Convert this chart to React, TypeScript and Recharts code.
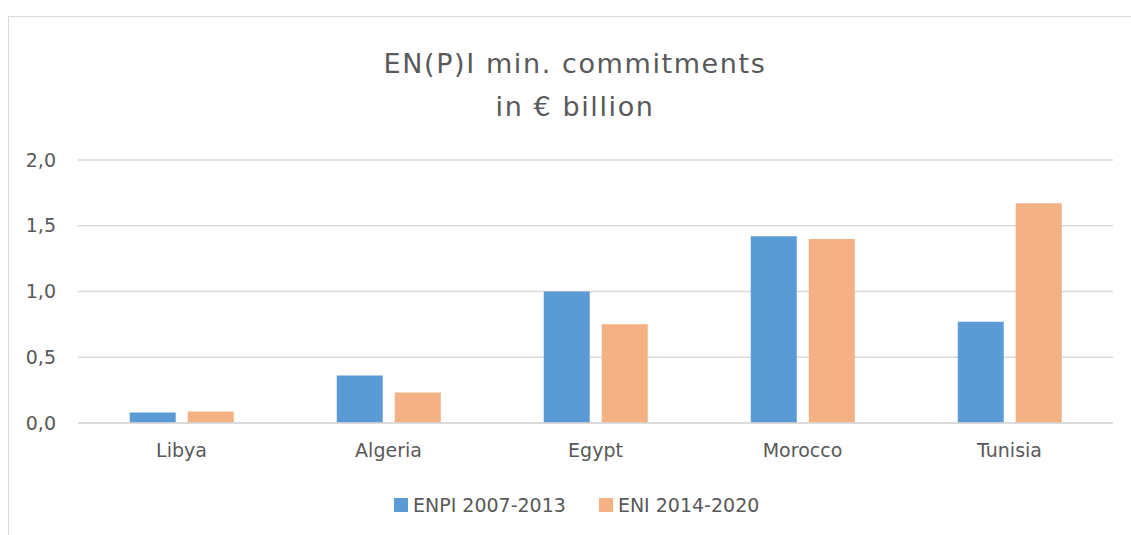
import * as React from "react";
import {
  Bar,
  BarChart,
  CartesianGrid,
  Legend,
  XAxis,
  YAxis,
} from "recharts";

const countries = ["Libya", "Algeria", "Egypt", "Morocco", "Tunisia"];
const enpi = [0.08, 0.362, 1.0, 1.42, 0.77]; // ENPI 2007-2013
const eni = [0.087, 0.232, 0.751, 1.4, 1.672]; // ENI 2014-2020
const yTicks = [0, 0.5, 1, 1.5, 2];

const BLUE = "#5B9BD5";
const ORANGE = "#F4B183";
const TEXT = "#595959";
const GRID = "#D9D9D9";
const FONT = "'DejaVu Sans', sans-serif";

const data = countries.map((c, i) => ({ country: c, enpi: enpi[i], eni: eni[i] }));

const fmt = (v: number) => v.toFixed(1).replace(".", ",");

function LegendBox() {
  const items = [
    { label: "ENPI 2007-2013", color: BLUE },
    { label: "ENI 2014-2020", color: ORANGE },
  ];
  return (
    <div style={{ display: "flex", alignItems: "center", gap: 33, fontFamily: FONT, fontSize: 19, color: TEXT }}>
      {items.map((it) => (
        <div key={it.label} style={{ display: "flex", alignItems: "center", gap: 5 }}>
          <span style={{ width: 14, height: 14, background: it.color, display: "inline-block" }} />
          <span>{it.label}</span>
        </div>
      ))}
    </div>
  );
}

export default function App() {
  return (
    <div style={{ position: "absolute", left: 0, top: 0, width: 1131, height: 535, overflow: "hidden", background: "#fff" }}>
      <div
        style={{
          position: "absolute",
          left: 8,
          top: 16,
          width: 1200,
          height: 600,
          border: `1px solid ${GRID}`,
        }}
      />
      <div
        style={{
          position: "absolute",
          left: 375,
          width: 400,
          top: 42,
          textAlign: "center",
          fontFamily: FONT,
          fontSize: 27,
          lineHeight: "43px",
          letterSpacing: 1.6,
          color: TEXT,
        }}
      >
        <div>EN(P)I min. commitments</div>
        <div>in € billion</div>
      </div>
      <BarChart
        width={1131}
        height={535}
        data={data}
        margin={{ top: 160, right: 18, bottom: 60, left: 0 }}
        barCategoryGap="25%"
        barGap={12}
      >
        <CartesianGrid vertical={false} stroke={GRID} strokeWidth={1.5} />
        <XAxis
          dataKey="country"
          axisLine={{ stroke: GRID, strokeWidth: 1.5 }}
          tickLine={false}
          tickMargin={15}
          tick={{ fill: TEXT, fontSize: 19, fontFamily: FONT }}
        />
        <YAxis
          width={78}
          domain={[0, 2]}
          ticks={yTicks}
          tickFormatter={fmt}
          axisLine={false}
          tickLine={false}
          tickMargin={16}
          tick={{ fill: TEXT, fontSize: 19, fontFamily: FONT }}
        />
        <Legend
          content={() => <LegendBox />}
          wrapperStyle={{ position: "absolute", left: 394, top: 494, width: "auto" }}
        />
        <Bar dataKey="enpi" name="ENPI 2007-2013" fill={BLUE} isAnimationActive={false} />
        <Bar dataKey="eni" name="ENI 2014-2020" fill={ORANGE} isAnimationActive={false} />
      </BarChart>
    </div>
  );
}
